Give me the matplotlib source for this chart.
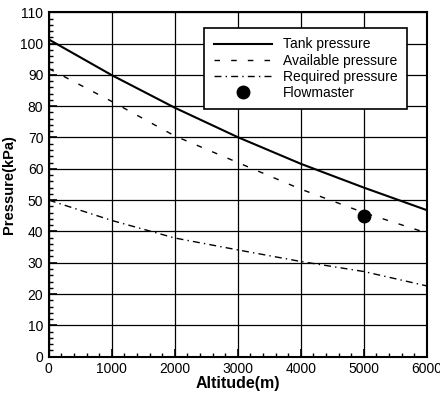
import matplotlib
matplotlib.use("Agg")
import matplotlib.pyplot as plt
from matplotlib.ticker import MultipleLocator

altitude = [0, 1000, 2000, 3000, 4000, 5000, 6000]
tank_pressure = [101.3, 89.9, 79.5, 70.1, 61.6, 54.0, 46.8]
available_pressure = [92.0, 81.5, 70.5, 62.0, 53.5, 46.0, 39.5]
required_pressure = [50.0, 43.5, 37.9, 34.1, 30.4, 27.2, 22.6]
flowmaster_alt = [5000]
flowmaster_p = [44.9]

plt.rcParams['font.family'] = ['Liberation Sans', 'DejaVu Sans']

fig = plt.figure(figsize=(4.4, 3.95), dpi=100)
ax = fig.add_axes([0.111, 0.097, 0.859, 0.872])

ax.plot(altitude, tank_pressure, color='black', lw=1.5, label='Tank pressure')
ax.plot(altitude, available_pressure, color='black', lw=1.0,
        dashes=(4, 8), label='Available pressure')
ax.plot(altitude, required_pressure, color='black', lw=1.0,
        dashes=(5, 3, 1, 3), label='Required pressure')
ax.plot(flowmaster_alt, flowmaster_p, 'o', color='black', ms=9,
        label='Flowmaster', zorder=5)

ax.set_xlim(0, 6000)
ax.set_ylim(0, 110)
ax.xaxis.set_major_locator(MultipleLocator(1000))
ax.xaxis.set_minor_locator(MultipleLocator(200))
ax.yaxis.set_major_locator(MultipleLocator(10))
ax.yaxis.set_minor_locator(MultipleLocator(2))
ax.tick_params(which='both', direction='in', labelsize=10, pad=4)
ax.tick_params(which='major', length=6, width=1.2)
ax.tick_params(which='minor', length=3, width=1)
ax.grid(True, which='major', color='black', lw=0.9)

for sp in ax.spines.values():
    sp.set_linewidth(1.5)

ax.set_xlabel('Altitude(m)', fontsize=11.5, fontweight='bold', labelpad=0)
ax.set_ylabel('Pressure(kPa)', fontsize=10.5, fontweight='bold', labelpad=3)

leg = ax.legend(loc='upper left', bbox_to_anchor=(0.41, 0.955), fontsize=10,
                frameon=True, fancybox=False, framealpha=1, edgecolor='black',
                handlelength=4.2, borderpad=0.7, labelspacing=0.15,
                handletextpad=0.8, borderaxespad=0)
leg.get_frame().set_linewidth(1.2)

fig.savefig('out.png', dpi=100)
